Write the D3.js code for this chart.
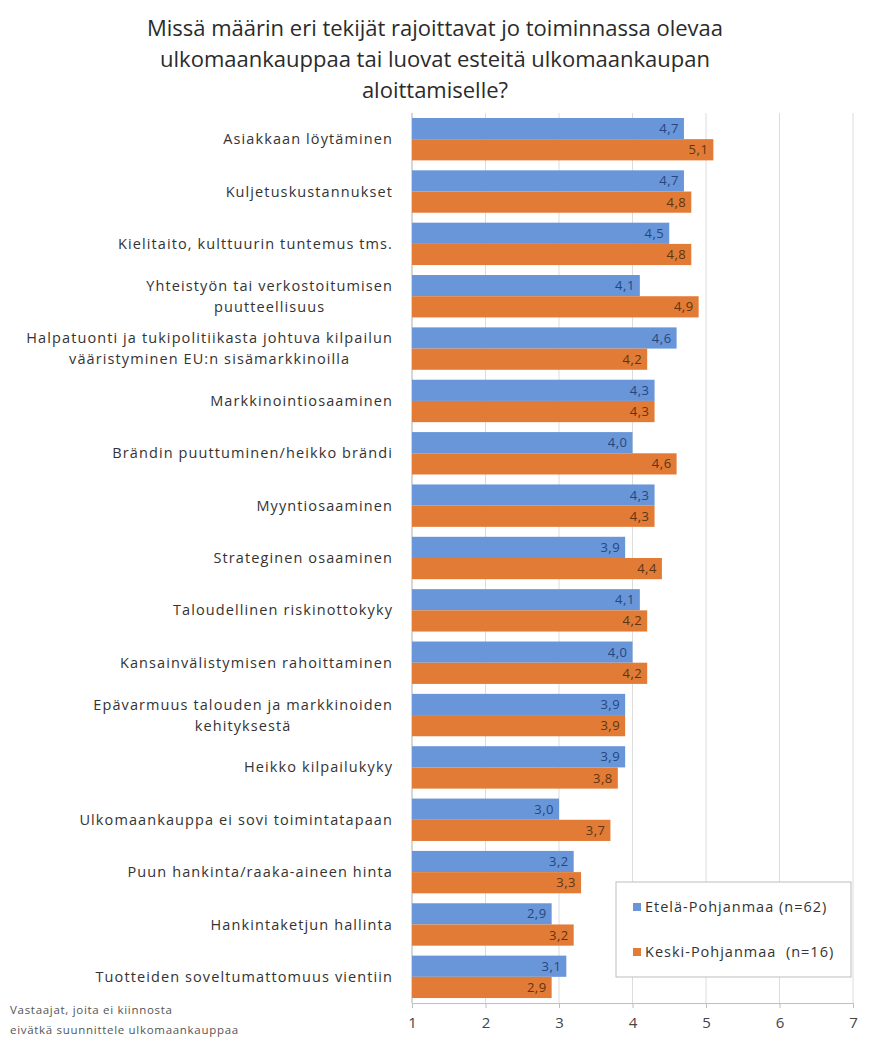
<!DOCTYPE html>
<html>
<head>
<meta charset="utf-8">
<script src="https://cdn.jsdelivr.net/npm/d3@7"></script>
<style>
  html, body { margin: 0; padding: 0; background: #fff; }
  svg { display: block; }
  text { font-family: "Open Sans", "Noto Sans", sans-serif; white-space: pre; }
</style>
</head>
<body>
<svg id="chart" width="871" height="1042"></svg>
<script>
// Factors limiting foreign trade, mean scores (1–7) by region
const titleLines = [
  "Missä määrin eri tekijät rajoittavat jo toiminnassa olevaa",
  "ulkomaankauppaa tai luovat esteitä ulkomaankaupan",
  "aloittamiselle?"
];

const categories = [
  ["Asiakkaan löytäminen"],
  ["Kuljetuskustannukset"],
  ["Kielitaito, kulttuurin tuntemus tms."],
  ["Yhteistyön tai verkostoitumisen", "puutteellisuus"],
  ["Halpatuonti ja tukipolitiikasta johtuva kilpailun", "vääristyminen EU:n sisämarkkinoilla"],
  ["Markkinointiosaaminen"],
  ["Brändin puuttuminen/heikko brändi"],
  ["Myyntiosaaminen"],
  ["Strateginen osaaminen"],
  ["Taloudellinen riskinottokyky"],
  ["Kansainvälistymisen rahoittaminen"],
  ["Epävarmuus talouden ja markkinoiden", "kehityksestä"],
  ["Heikko kilpailukyky"],
  ["Ulkomaankauppa ei sovi toimintatapaan"],
  ["Puun hankinta/raaka-aineen hinta"],
  ["Hankintaketjun hallinta"],
  ["Tuotteiden soveltumattomuus vientiin"]
];

const etelaPohjanmaa = [4.7, 4.7, 4.5, 4.1, 4.6, 4.3, 4.0, 4.3, 3.9, 4.1, 4.0, 3.9, 3.9, 3.0, 3.2, 2.9, 3.1];
const keskiPohjanmaa = [5.1, 4.8, 4.8, 4.9, 4.2, 4.3, 4.6, 4.3, 4.4, 4.2, 4.2, 3.9, 3.8, 3.7, 3.3, 3.2, 2.9];

const seriesNames = ["Etelä-Pohjanmaa (n=62)", "Keski-Pohjanmaa  (n=16)"];
const xTicks = [1, 2, 3, 4, 5, 6, 7];
const footnote = ["Vastaajat, joita ei kiinnosta", "eivätkä suunnittele ulkomaankauppaa"];

const colors = ["#6896d9", "#e27b36"];
const labelColors = ["#27467d", "#5e3512"];

const svg = d3.select("#chart");
const plot = { left: 412, right: 853, top: 113, bottom: 1003 };

const x = d3.scaleLinear().domain([1, 7]).range([plot.left, plot.right]);
const y = d3.scaleBand()
  .domain(d3.range(categories.length))
  .range([plot.top, plot.bottom])
  .paddingInner(0.19)
  .paddingOuter(0.095);
const sub = d3.scaleBand().domain([0, 1]).range([0, y.bandwidth()]);

// Title
svg.append("g").selectAll("text")
  .data(titleLines)
  .join("text")
  .attr("x", 435)
  .attr("y", (d, i) => 36 + i * 31)
  .attr("text-anchor", "middle")
  .attr("font-size", 22)
  .attr("fill", "#2b2b2b")
  .text(d => d);

// Vertical gridlines
svg.append("g")
  .selectAll("line")
  .data(xTicks)
  .join("line")
  .attr("x1", d => x(d)).attr("x2", d => x(d))
  .attr("y1", plot.top).attr("y2", plot.bottom)
  .attr("stroke", "#dcdcdc")
  .attr("stroke-width", 1);

// X axis
const xAxis = svg.append("g")
  .attr("transform", `translate(0,${plot.bottom})`)
  .call(d3.axisBottom(x).tickValues(xTicks).tickFormat(d3.format("d")).tickSize(5).tickPadding(9));
xAxis.select(".domain").attr("stroke", "#bfbfbf");
xAxis.selectAll(".tick line").attr("stroke", "#bfbfbf");
xAxis.selectAll(".tick text")
  .attr("font-size", 15)
  .attr("fill", "#444")
  .style("font-family", "'Open Sans', sans-serif");

// Left axis line
svg.append("line")
  .attr("x1", plot.left).attr("x2", plot.left)
  .attr("y1", plot.top).attr("y2", plot.bottom)
  .attr("stroke", "#bfbfbf");

// Bars
const series = [etelaPohjanmaa, keskiPohjanmaa];
const groups = svg.append("g").selectAll("g")
  .data(categories.map((c, i) => ({ i, vals: series.map(s => s[i]) })))
  .join("g")
  .attr("transform", d => `translate(0,${y(d.i)})`);

groups.selectAll("rect")
  .data(d => d.vals.map((v, k) => ({ v, k })))
  .join("rect")
  .attr("x", x(1))
  .attr("y", d => sub(d.k))
  .attr("width", d => x(d.v) - x(1))
  .attr("height", sub.bandwidth())
  .attr("fill", d => colors[d.k]);

const fmt = v => d3.format(".1f")(v).replace(".", ",");
groups.selectAll("text.val")
  .data(d => d.vals.map((v, k) => ({ v, k })))
  .join("text")
  .attr("class", "val")
  .attr("x", d => x(d.v) - 5)
  .attr("y", d => sub(d.k) + sub.bandwidth() / 2)
  .attr("dy", "0.35em")
  .attr("text-anchor", "end")
  .attr("font-size", 13)
  .attr("letter-spacing", 0.5)
  .attr("fill", d => labelColors[d.k])
  .text(d => fmt(d.v));

// Category labels: block right-aligned, lines centred within the block
const labelRight = 393;
const lineH = 21;
categories.forEach((lines, i) => {
  const g = svg.append("g");
  const cy = y(i) + y.bandwidth() / 2;
  const texts = lines.map((t, j) => g.append("text")
    .attr("y", cy + (j - (lines.length - 1) / 2) * lineH)
    .attr("dy", "0.35em")
    .attr("font-size", 14.5)
    .attr("letter-spacing", 1.1)
    .attr("fill", "#333")
    .attr("text-anchor", "middle")
    .text(t));
  const w = d3.max(texts, t => t.node().getComputedTextLength());
  texts.forEach(t => t.attr("x", labelRight - w / 2));
});

// Legend
const legend = svg.append("g").attr("transform", "translate(616,882)");
legend.append("rect")
  .attr("width", 235).attr("height", 95)
  .attr("fill", "#fff")
  .attr("stroke", "#bdbdbd");
seriesNames.forEach((name, k) => {
  const ly = 25 + k * 45;
  legend.append("rect")
    .attr("x", 17).attr("y", ly - 4)
    .attr("width", 8).attr("height", 8)
    .attr("fill", colors[k]);
  legend.append("text")
    .attr("x", 29).attr("y", ly)
    .attr("dy", "0.35em")
    .attr("font-size", 14.5)
    .attr("letter-spacing", 1)
    .attr("fill", "#333")
    .text(name);
});

// Footnote
svg.append("g").selectAll("text")
  .data(footnote)
  .join("text")
  .attr("x", 10)
  .attr("y", (d, i) => 1014 + i * 20)
  .attr("font-size", 11.5)
  .attr("letter-spacing", 0.7)
  .attr("fill", "#555")
  .text(d => d);
</script>
</body>
</html>
